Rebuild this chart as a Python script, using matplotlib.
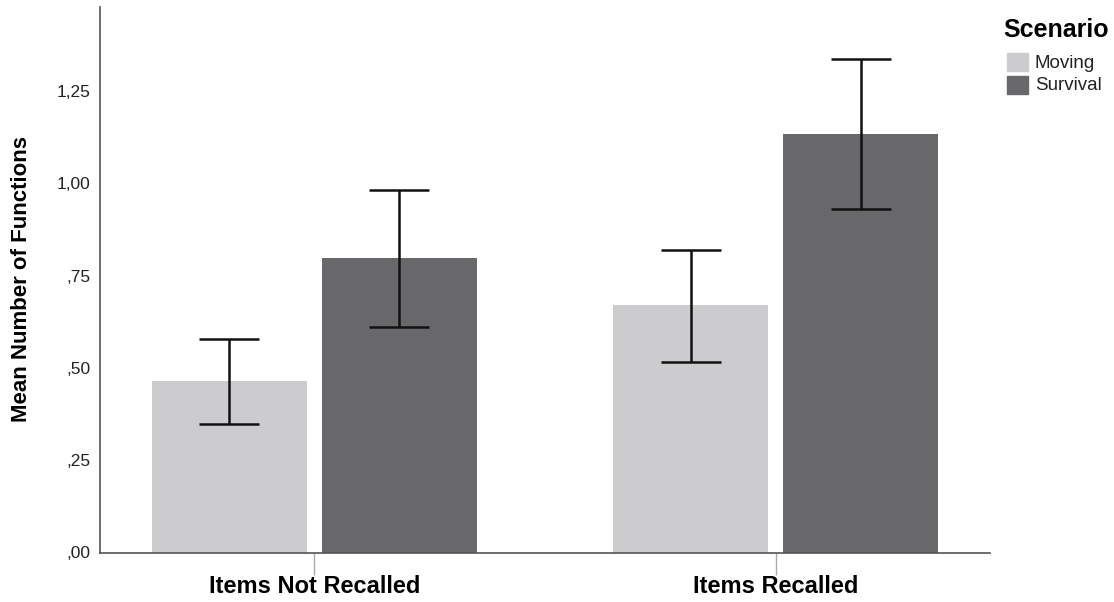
import matplotlib
matplotlib.use("Agg")
import matplotlib.pyplot as plt
from matplotlib.patches import Rectangle
import numpy as np

# Mean number of functions per condition with 95% CI bounds
groups = ["Items Not Recalled", "Items Recalled"]
scenarios = ["Moving", "Survival"]
moving_mean = [0.465, 0.670]
moving_low = [0.347, 0.515]
moving_high = [0.577, 0.820]
survival_mean = [0.798, 1.134]
survival_low = [0.612, 0.930]
survival_high = [0.982, 1.336]
ytick_values = [0.0, 0.25, 0.5, 0.75, 1.0, 1.25]
ytick_labels = [",00", ",25", ",50", ",75", "1,00", "1,25"]

plt.rcParams["font.family"] = ["Liberation Sans", "DejaVu Sans"]

W, H = 1114, 602
fig = plt.figure(figsize=(W / 100, H / 100), dpi=100)
ax = fig.add_axes([100 / W, (H - 552.5) / H, 890 / W, (552.5 - 7) / H])

x = np.arange(len(groups))
width = 0.336
offset = 0.1844
colors = ["#cccbce", "#68676a"]

series = [
    (moving_mean, moving_low, moving_high),
    (survival_mean, survival_low, survival_high),
]
for i, (mean, low, high) in enumerate(series):
    pos = x + (offset if i else -offset)
    mean = np.array(mean)
    yerr = np.vstack([mean - np.array(low), np.array(high) - mean])
    ax.bar(pos, mean, width, color=colors[i], label=scenarios[i], zorder=2)
    ax.errorbar(pos, mean, yerr=yerr, fmt="none", ecolor="#111111",
                elinewidth=1.8, capsize=21.5, capthick=1.8, zorder=3)

ax.set_xlim(-0.465, 1.465)
ax.set_ylim(0, 1.4775)
ax.set_yticks(ytick_values)
ax.set_yticklabels(ytick_labels, fontsize=12.5, color="#222222")
ax.tick_params(axis="y", length=0, pad=7)
ax.set_xticks(x)
ax.set_xticklabels(groups, fontsize=17, fontweight="bold")
ax.tick_params(axis="x", length=16, width=1, color="#aaaaaa", pad=0.5)

for s in ["top", "right"]:
    ax.spines[s].set_visible(False)
for s in ["left", "bottom"]:
    ax.spines[s].set_color("#555555")
    ax.spines[s].set_linewidth(1.2)

fig.text(22 / W, 1 - 279 / H, "Mean Number of Functions", rotation=90,
         ha="center", va="center", fontsize=16, fontweight="bold")

# Legend drawn in figure pixel coordinates
fig.text(1003 / W, 1 - 30 / H, "Scenario", ha="left", va="center",
         fontsize=18, fontweight="bold")
for i, name in enumerate(scenarios):
    top = 53 + i * 23
    fig.add_artist(Rectangle((1007 / W, 1 - (top + 18) / H), 21 / W, 18 / H,
                             transform=fig.transFigure, color=colors[i]))
    fig.text(1035 / W, 1 - (top + 10) / H, name, ha="left", va="center",
             fontsize=13.5, color="#222222")

fig.savefig("out.png", dpi=100)
